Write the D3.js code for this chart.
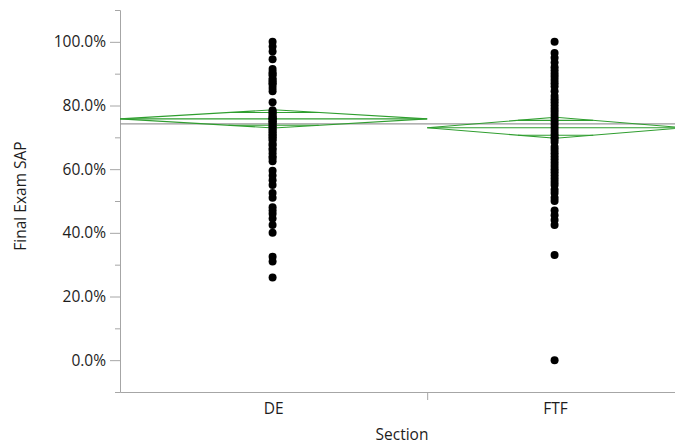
<!DOCTYPE html>
<html>
<head>
<meta charset="utf-8">
<script src="https://cdn.jsdelivr.net/npm/d3@7"></script>
<style>
  body { margin: 0; background: #fff; }
  svg { display: block; font-family: "Open Sans", "Noto Sans", sans-serif; }
</style>
</head>
<body>
<script>
// groups on the x axis
const sections = ['DE', 'FTF'];

// Final Exam SAP (%) per student
const deScores = [100, 98.5, 97, 94.5,
  91.5, 90.5, 90, 89.5, 88.5, 88, 87.5, 87, 86.5, 85.5, 84.5,
  81,
  78.5, 78, 77.5, 77, 76.5, 76, 76, 75.5, 75, 75, 74.5, 74, 73.5, 73, 72.5, 72, 71.5, 71,
  70.5, 70, 69.5, 69, 68, 67.5, 66.5, 66, 65, 64, 63.5, 62.5,
  59.5, 58, 56.5, 55,
  52.5, 51,
  48, 47, 46, 44.5,
  42.5, 40,
  32.5, 31,
  26];
const ftfScores = [100, 96.5, 95, 93.5, 92, 91, 90, 89, 88, 87, 86, 84.5, 83, 82, 81,
  80, 79, 78, 77, 76, 75, 74, 73, 72, 71, 70, 69.5, 68.5, 67, 66, 65, 64, 63, 62, 61,
  60, 59, 58, 57, 56, 55, 53.5, 52.5, 51, 50,
  47, 45.5, 44, 42.5,
  33, 0];

// means diamonds (group mean and 95% CI half width) and grand mean
const groupMeans = [75.8, 73.0];
const groupCI = [2.85, 3.3];
const grandMean = 74.2;

const majorTicks = [0, 20, 40, 60, 80, 100];
const minorTicks = [-10, 10, 30, 50, 70, 90, 110];

const width = 675, height = 446;
const svg = d3.select('body').append('svg')
  .attr('width', width).attr('height', height);

const groups = [deScores, ftfScores];
const counts = groups.map(g => g.length);
const starts = [0, counts[0]];
const total = d3.sum(counts);

const y = d3.scaleLinear().domain([-10, 110]).range([392, 10]);
const x = d3.scaleLinear().domain([0, total]).range([120, 684]);

const green = '#2f9e2f';
const axisGray = '#a6a6a6';
const textColor = '#1d1d1d';

// y axis, minor then major ticks
const yMinor = svg.append('g').attr('transform', 'translate(120,0)')
  .call(d3.axisLeft(y).tickValues(minorTicks).tickSize(5).tickSizeOuter(0).tickFormat(''));
const yMajor = svg.append('g').attr('transform', 'translate(120,0)')
  .call(d3.axisLeft(y).tickValues(majorTicks).tickSize(10).tickSizeOuter(0).tickPadding(4)
    .tickFormat(d => d.toFixed(1) + '%'));
[yMinor, yMajor].forEach(g => {
  g.selectAll('path, line').attr('stroke', axisGray);
  g.selectAll('text').attr('fill', textColor).attr('font-size', 15.5)
    .attr('font-family', '"Open Sans", sans-serif');
});

// x axis
const xAxis = svg.append('g').attr('transform', 'translate(0,392)')
  .call(d3.axisBottom(x).tickValues([counts[0]]).tickSize(8).tickSizeOuter(0).tickFormat(''));
xAxis.selectAll('path, line').attr('stroke', axisGray);

svg.append('g').selectAll('text')
  .data(sections)
  .join('text')
  .attr('x', (d, i) => x(starts[i] + counts[i] / 2))
  .attr('y', 414)
  .attr('text-anchor', 'middle')
  .attr('font-size', 15.5)
  .attr('fill', textColor)
  .text(d => d);

// axis titles
svg.append('text')
  .attr('x', 402).attr('y', 440)
  .attr('text-anchor', 'middle')
  .attr('font-size', 15.5)
  .attr('fill', textColor)
  .text('Section');

svg.append('text')
  .attr('transform', 'translate(26,196) rotate(-90)')
  .attr('text-anchor', 'middle')
  .attr('font-size', 15.5)
  .attr('fill', textColor)
  .text('Final Exam SAP');

// grand mean
svg.append('line')
  .attr('x1', x(0)).attr('x2', x(total))
  .attr('y1', y(grandMean)).attr('y2', y(grandMean))
  .attr('stroke', '#9a9a9a').attr('stroke-width', 1.2);

// means diamonds with overlap marks, the marks end on the diamond edges
const diamonds = svg.append('g').attr('fill', 'none').attr('stroke', green).attr('stroke-width', 1.1);
sections.forEach((s, i) => {
  const x0 = x(starts[i]), x1 = x(starts[i] + counts[i]), xc = (x0 + x1) / 2;
  const m = groupMeans[i], h = groupCI[i];
  diamonds.append('path')
    .attr('d', d3.line()([[x0, y(m)], [xc, y(m + h)], [x1, y(m)], [xc, y(m - h)], [x0, y(m)]]));
  diamonds.append('line')
    .attr('x1', x0).attr('x2', x1).attr('y1', y(m)).attr('y2', y(m));
  const k = Math.SQRT1_2;
  const inset = (x1 - x0) / 2 * k;
  [m + h * k, m - h * k].forEach(v => {
    diamonds.append('line')
      .attr('x1', x0 + inset).attr('x2', x1 - inset)
      .attr('y1', y(v)).attr('y2', y(v));
  });
});

// points
sections.forEach((s, i) => {
  const xc = x(starts[i] + counts[i] / 2);
  svg.append('g').selectAll('circle')
    .data(groups[i])
    .join('circle')
    .attr('cx', xc - 1)
    .attr('cy', d => y(d))
    .attr('r', 4)
    .attr('fill', '#000');
});
</script>
</body>
</html>
